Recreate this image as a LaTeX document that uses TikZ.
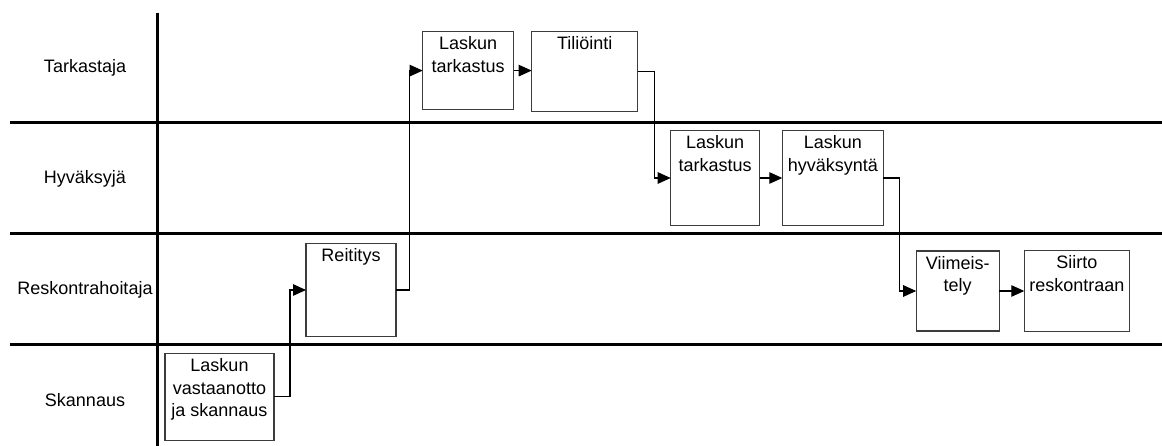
\documentclass[tikz,border=0pt]{standalone}
\usepackage{fontspec}
\setmainfont{Liberation Sans}
\usetikzlibrary{calc,arrows.meta}
\definecolor{boxline}{RGB}{60,60,60}
\tikzset{
  lane/.style={line width=2.5pt, black},
  lanelabel/.style={font=\fontsize{18}{22}\selectfont},
  task/.style={draw=boxline, line width=1.3pt, inner sep=0pt, outer sep=0pt},
  tasktext/.style={anchor=north, align=center, inner sep=5pt,
    font=\fontsize{18}{22.7}\selectfont},
  flow/.style={line width=1.1pt, -{Triangle[length=13pt,width=11.5pt]}},
}

\begin{document}
\begin{tikzpicture}[x=1pt, y=-1pt]
  \useasboundingbox (0,0) rectangle (1162,446);

  % Swimlanes
  \foreach \ly in {122.7,233.3,344.3}
    \draw[lane] (10,\ly) -- (1162,\ly);
  \draw[lane] (157.5,12.7) -- (157.5,446);

  % Lane names
  \node[lanelabel] (tarkastaja) at (85,68) {Tarkastaja};
  \node[lanelabel] (hyvaksyja) at (85,179) {Hyväksyjä};
  \node[lanelabel] (reskontra) at (85,290) {Reskontrahoitaja};
  \node[lanelabel] (skannaus) at (85,400) {Skannaus};

  % Tasks
  \node[task, minimum width=109, minimum height=87,
    label={[tasktext]north:Laskun\\vastaanotto\\ja skannaus}] (vast) at (219.5,396.7) {};
  \node[task, minimum width=90, minimum height=93,
    label={[tasktext]north:Reititys}] (reit) at (351,290) {};
  \node[task, minimum width=91, minimum height=78,
    label={[tasktext]north:Laskun\\tarkastus}] (tark1) at (468.2,70.6) {};
  \node[task, minimum width=106, minimum height=80,
    label={[tasktext]north:Tiliöinti}] (tili) at (584.7,71.6) {};
  \node[task, minimum width=89, minimum height=95,
    label={[tasktext]north:Laskun\\tarkastus}] (tark2) at (715.2,178) {};
  \node[task, minimum width=101, minimum height=95,
    label={[tasktext]north:Laskun\\hyväksyntä}] (hyv) at (832.8,178) {};
  \node[task, minimum width=83, minimum height=80,
    label={[tasktext]north:Viimeis-\\tely}] (viim) at (957.7,291) {};
  \node[task, minimum width=105, minimum height=81,
    label={[tasktext]north:Siirto\\reskontraan}] (siirto) at (1076.8,291) {};

  % Flow between lanes
  \draw[flow] (vast.east) -| ($(vast.east)!.5!(reit.west)$) |- (reit.west);
  \draw[flow] (reit.east) -| ($(reit.east)!.5!(tark1.west)$) |- (tark1.west);
  \draw[flow] (tark1.east) -- (tark1.east -| tili.west);
  \draw[flow] (tili.east) -| ($(tili.east)!.5!(tark2.west)$) |- (tark2.west);
  \draw[flow] (tark2.east) -- (hyv.west);
  \draw[flow] (hyv.east) -| ($(hyv.east)!.5!(viim.west)$) |- (viim.west);
  \draw[flow] (viim.east) -- (siirto.west);
\end{tikzpicture}
\end{document}
